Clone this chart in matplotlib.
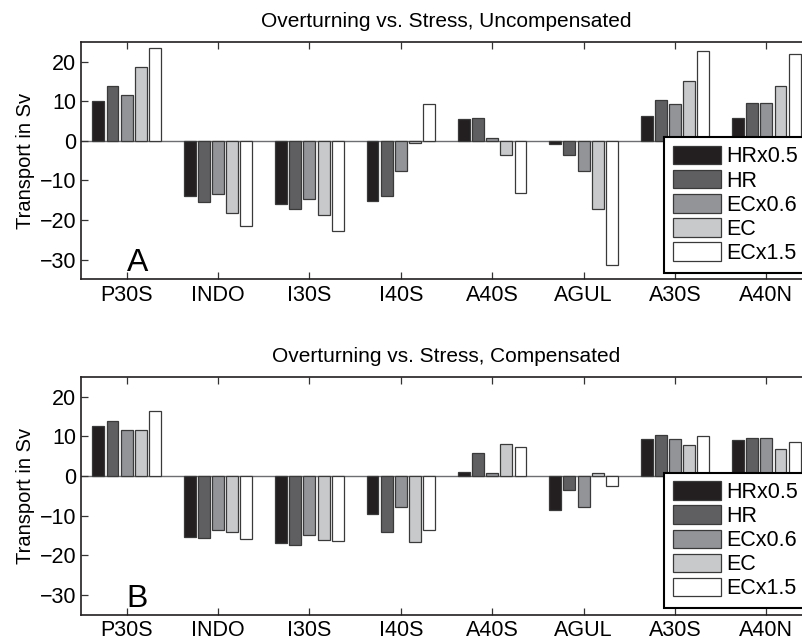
import numpy as np
import matplotlib
matplotlib.use("Agg")
import matplotlib.pyplot as plt

plt.rcParams['font.family'] = ['Liberation Sans', 'DejaVu Sans']

sections = ["P30S", "INDO", "I30S", "I40S", "A40S", "AGUL", "A30S", "A40N"]
experiments = ["HRx0.5", "HR", "ECx0.6", "EC", "ECx1.5"]
colors = ["#231f20", "#5f5f61", "#929497", "#c8c9cb", "#ffffff"]

# Overturning transport (Sv) per section, one list per stress experiment
uncomp_hrx05 = [10.2, -14.0, -15.9, -15.3, 5.6, -0.8, 6.3, 5.8]
uncomp_hr = [13.9, -15.5, -17.2, -14.0, 5.8, -3.5, 10.4, 9.5]
uncomp_ecx06 = [11.5, -13.4, -14.6, -7.5, 0.8, -7.7, 9.3, 9.5]
uncomp_ec = [18.7, -18.3, -18.7, -0.6, -3.5, -17.3, 15.2, 13.9]
uncomp_ecx15 = [23.4, -21.6, -22.7, 9.3, -13.1, -31.4, 22.7, 22.0]

comp_hrx05 = [12.7, -15.3, -16.9, -9.5, 1.1, -8.6, 9.4, 9.0]
comp_hr = [13.9, -15.7, -17.3, -14.0, 5.7, -3.5, 10.3, 9.5]
comp_ecx06 = [11.6, -13.5, -14.8, -7.7, 0.7, -7.7, 9.4, 9.5]
comp_ec = [11.6, -14.2, -16.2, -16.6, 8.0, 0.7, 7.8, 6.8]
comp_ecx15 = [16.5, -15.9, -16.3, -13.6, 7.3, -2.6, 10.2, 8.7]

yticks = [-30, -20, -10, 0, 10, 20]

panels = [
    ("Overturning vs. Stress, Uncompensated", "A",
     [uncomp_hrx05, uncomp_hr, uncomp_ecx06, uncomp_ec, uncomp_ecx15]),
    ("Overturning vs. Stress, Compensated", "B",
     [comp_hrx05, comp_hr, comp_ecx06, comp_ec, comp_ecx15]),
]

fig = plt.figure(figsize=(8.02, 6.44), dpi=100)
axes_boxes = [
    [81 / 802, 1 - 279.3 / 644, 731 / 802, 237.3 / 644],
    [81 / 802, 1 - 614.7 / 644, 731 / 802, 237.7 / 644],
]

x = np.arange(1, len(sections) + 1)
step = 0.155
width = 0.13

for box, (title, letter, series) in zip(axes_boxes, panels):
    ax = fig.add_axes(box)
    ax.axhline(0, color="#6d6e71", lw=1.0, zorder=1)
    for i, (vals, col, name) in enumerate(zip(series, colors, experiments)):
        ax.bar(x + (i - 2) * step, vals, width=width, color=col,
               edgecolor="#3a3a3a", linewidth=0.9, label=name, zorder=2)
    ax.set_xlim(0.5, 8.5)
    ax.set_ylim(-35, 25)
    ax.set_xticks(x)
    ax.set_xticklabels(sections)
    ax.set_yticks(yticks)
    ax.set_yticklabels([f"{t}".replace("-", "\u2212") for t in yticks])
    ax.tick_params(direction="in", length=5, width=0.9, labelsize=15.5,
                   top=True, right=True, pad=4, color="#333333")
    ax.tick_params(axis="y", pad=3.5)
    for s in ax.spines.values():
        s.set_linewidth(1.2)
        s.set_color("#231f20")
    ax.set_ylabel("Transport in Sv", fontsize=14.5, labelpad=3)
    ax.set_title(title, fontsize=15, pad=11)
    ax.text(1.0, -33, letter, fontsize=23, ha="left", va="baseline")
    leg = ax.legend(loc="lower left", bbox_to_anchor=(0.7975, 0.028),
                    fontsize=15.5, frameon=True, fancybox=False,
                    handlelength=2.23, handleheight=0.93, handletextpad=0.25,
                    labelspacing=0.12, borderpad=0.4, borderaxespad=0.0)
    leg.get_frame().set_edgecolor("#000000")
    leg.get_frame().set_linewidth(1.5)
    leg.get_frame().set_alpha(1)

fig.savefig("out.png", dpi=100)
